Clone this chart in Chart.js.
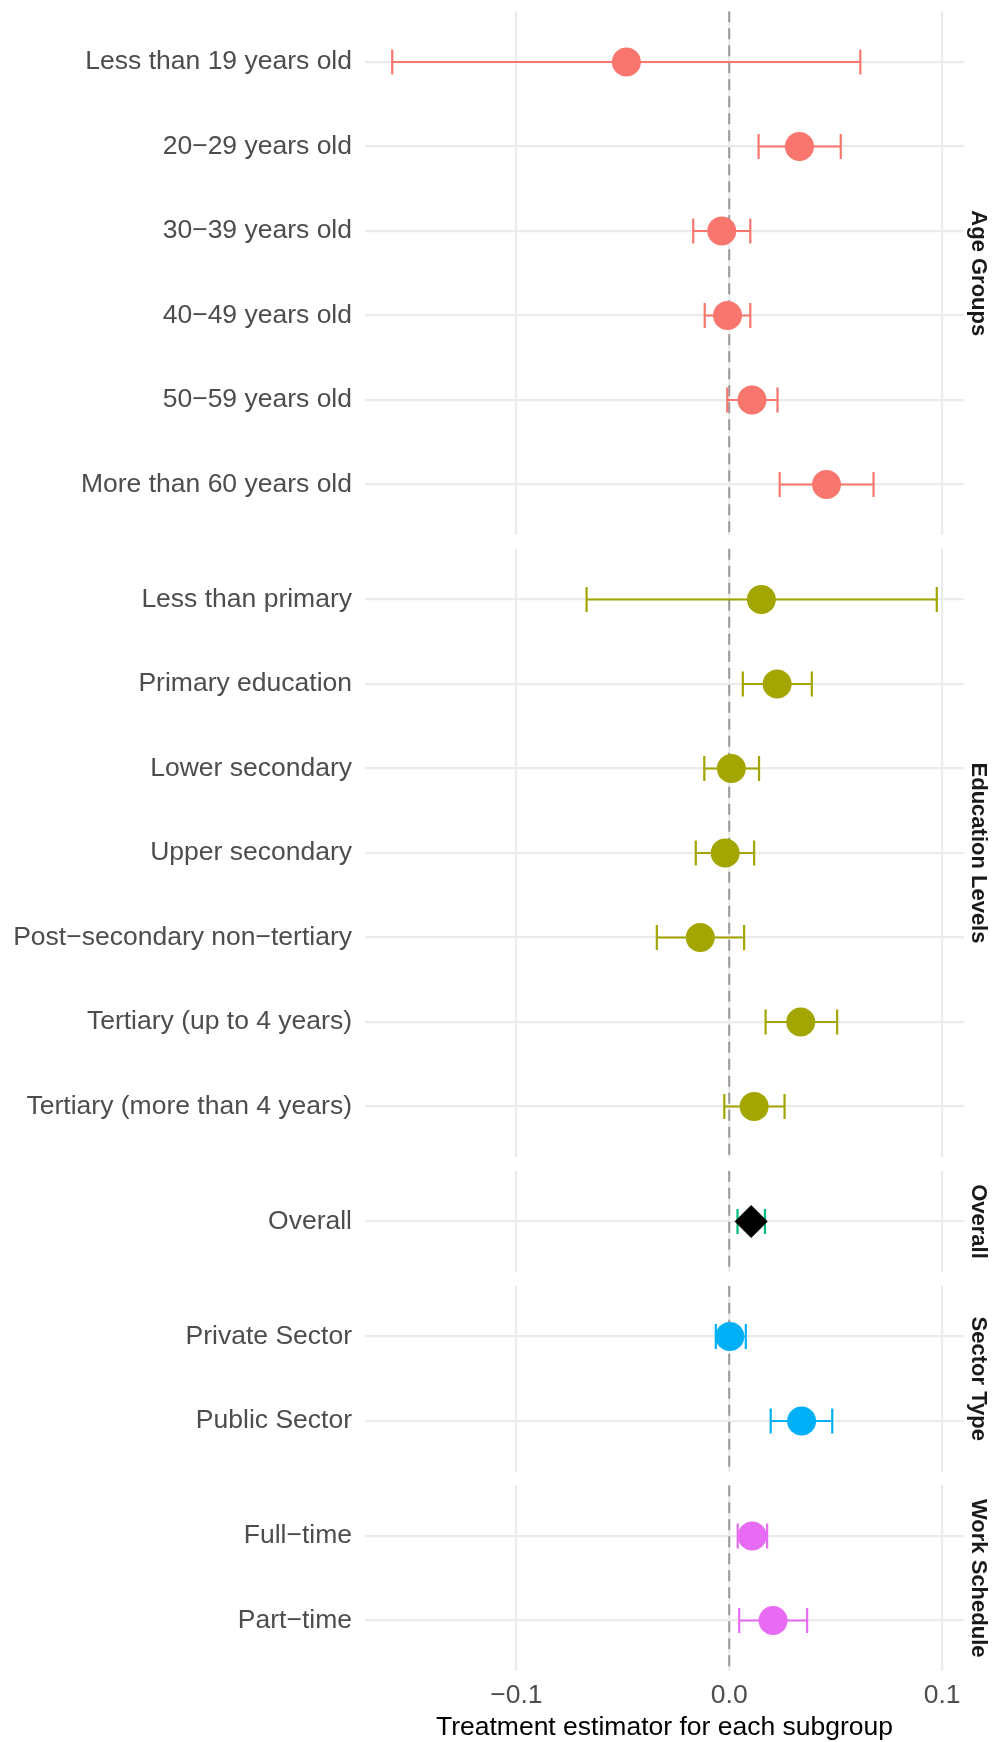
<!DOCTYPE html>
<html>
<head>
<meta charset="utf-8">
<title>Treatment estimator by subgroup</title>
<script src="https://cdn.jsdelivr.net/npm/chart.js@4"></script>
<style>
  body { margin: 0; background: #ffffff; }
  #contenedor { position: relative; width: 995px; height: 1742px; overflow: hidden; }
  #contenedor canvas { position: absolute; left: 0; }
</style>
</head>
<body>
<div id="contenedor"></div>
<script>
// ---------------- data ----------------
const ageLabels = ["Less than 19 years old", "20\u221229 years old", "30\u221239 years old",
  "40\u221249 years old", "50\u221259 years old", "More than 60 years old"];
const ageEst = [-0.0483, 0.0330, -0.0035, -0.0008, 0.0107, 0.0457];
const ageLow = [-0.1583, 0.0138, -0.0169, -0.0115, -0.0009, 0.0237];
const ageHigh = [0.0616, 0.0524, 0.0099, 0.0099, 0.0227, 0.0678];

const eduLabels = ["Less than primary", "Primary education", "Lower secondary", "Upper secondary",
  "Post\u2212secondary non\u2212tertiary", "Tertiary (up to 4 years)", "Tertiary (more than 4 years)"];
const eduEst = [0.0151, 0.0225, 0.0010, -0.0019, -0.0136, 0.0336, 0.0117];
const eduLow = [-0.0670, 0.0064, -0.0117, -0.0157, -0.0340, 0.0171, -0.0023];
const eduHigh = [0.0975, 0.0388, 0.0140, 0.0117, 0.0070, 0.0507, 0.0260];

const overallLabels = ["Overall"];
const overallEst = [0.0103];
const overallLow = [0.0039];
const overallHigh = [0.0168];

const sectorLabels = ["Private Sector", "Public Sector"];
const sectorEst = [0.0003, 0.0340];
const sectorLow = [-0.0063, 0.0195];
const sectorHigh = [0.0078, 0.0484];

const workLabels = ["Full\u2212time", "Part\u2212time"];
const workEst = [0.0108, 0.0206];
const workLow = [0.0040, 0.0047];
const workHigh = [0.0178, 0.0366];

const groupNames = ["Age Groups", "Education Levels", "Overall", "Sector Type", "Work Schedule"];
const groupColors = ["#F8766D", "#A3A500", "#00BF7D", "#00B0F6", "#E76BF3"];
const xTickValues = [-0.1, 0.0, 0.1];
const xTitle = "Treatment estimator for each subgroup";
/////////////////////////////////////////////////////////////////////////////////////

const paneles = [
  { nombre: groupNames[0], labels: ageLabels, est: ageEst, low: ageLow, high: ageHigh, color: groupColors[0] },
  { nombre: groupNames[1], labels: eduLabels, est: eduEst, low: eduLow, high: eduHigh, color: groupColors[1] },
  { nombre: groupNames[2], labels: overallLabels, est: overallEst, low: overallLow, high: overallHigh, color: groupColors[2], diamante: true },
  { nombre: groupNames[3], labels: sectorLabels, est: sectorEst, low: sectorLow, high: sectorHigh, color: groupColors[3] },
  { nombre: groupNames[4], labels: workLabels, est: workEst, low: workLow, high: workHigh, color: groupColors[4] },
];

// shared x range: data extent plus 5% on each side
const todosLow = paneles.flatMap((p) => p.low);
const todosHigh = paneles.flatMap((p) => p.high);
const xMinDatos = Math.min(...todosLow);
const xMaxDatos = Math.max(...todosHigh);
const xExpand = (xMaxDatos - xMinDatos) * 0.05;
const xMin = xMinDatos - xExpand;
const xMax = xMaxDatos + xExpand;

const ALTO_TOTAL = 1742;
const ANCHO_TOTAL = 995;
const pasoFila = 84.5;
const separacion = 13.6;
const primerTop = 11.3;
const margen = 40;
const anchoEtiquetas = 365;
const fuente = "'Liberation Sans', Arial, Helvetica, sans-serif";
const colorRejilla = "#EBEBEB";

Chart.defaults.font.family = fuente;

function formatoTick(v) {
  if (Math.abs(v) < 1e-9) return "0.0";
  return (v < 0 ? "\u2212" : "") + Math.abs(v).toFixed(1);
}

const contenedor = document.getElementById("contenedor");
let topPanel = primerTop;

paneles.forEach((panel, i) => {
  const n = panel.labels.length;
  const altoPanel = (n - 1 + 1.2) * pasoFila;
  const esUltimo = i === paneles.length - 1;
  const canvasTop = Math.floor(topPanel) - margen;
  const padTop = topPanel - canvasTop;
  const altoCanvas = esUltimo
    ? ALTO_TOTAL - canvasTop
    : Math.ceil(padTop + altoPanel + margen);
  const padBottom = esUltimo ? 0 : altoCanvas - padTop - altoPanel;
  const altoEje = ALTO_TOTAL - (topPanel + altoPanel);

  const canvas = document.createElement("canvas");
  canvas.width = ANCHO_TOTAL;
  canvas.height = altoCanvas;
  canvas.style.top = canvasTop + "px";
  contenedor.appendChild(canvas);

  // dashed reference line at zero
  const datasets = [
    {
      type: "line",
      data: [{ x: 0, y: -0.6 }, { x: 0, y: n - 0.4 }],
      borderColor: "#999999",
      borderWidth: 2,
      borderDash: [11, 6],
      pointRadius: 0,
      order: 2,
    },
  ];

  // error bars with caps
  panel.labels.forEach((etiqueta, j) => {
    datasets.push({
      type: "line",
      data: [{ x: panel.low[j], y: j }, { x: panel.high[j], y: j }],
      borderColor: panel.color,
      borderWidth: 2.2,
      pointStyle: "line",
      pointRotation: 90,
      pointRadius: 12.5,
      pointHoverRadius: 12.5,
      pointBorderColor: panel.color,
      pointBorderWidth: 2.2,
      order: 1,
    });
  });

  // point estimates
  datasets.push({
    type: "scatter",
    data: panel.est.map((v, j) => ({ x: v, y: j })),
    pointStyle: panel.diamante ? "rectRot" : "circle",
    pointRadius: panel.diamante ? 16 : 14.5,
    pointHoverRadius: panel.diamante ? 16 : 14.5,
    backgroundColor: panel.diamante ? "#000000" : panel.color,
    borderColor: panel.diamante ? "#000000" : panel.color,
    borderWidth: panel.diamante ? 1 : 0,
    order: 0,
  });

  new Chart(canvas, {
    type: "scatter",
    data: { datasets: datasets },
    options: {
      responsive: false,
      animation: false,
      events: [],
      layout: { padding: { top: padTop, bottom: padBottom, left: 0, right: 0 } },
      plugins: {
        legend: { display: false },
        tooltip: { enabled: false },
        // facet strip on the right side of each panel
        title: {
          display: true,
          fullSize: false,
          position: "right",
          text: panel.nombre,
          color: "#1A1A1A",
          font: { family: fuente, size: 22, weight: "bold", lineHeight: 1.2 },
          padding: { top: 3.8, bottom: 0.8 },
        },
      },
      scales: {
        x: {
          type: "linear",
          min: xMin,
          max: xMax,
          afterBuildTicks: (s) => {
            s.ticks = xTickValues.map((v) => ({ value: v }));
          },
          afterFit: (s) => {
            s.height = esUltimo ? altoEje : 0;
          },
          grid: { color: colorRejilla, lineWidth: 2.2, drawTicks: false },
          border: { display: false },
          ticks: {
            display: esUltimo,
            color: "#4D4D4D",
            font: { family: fuente, size: 26.5 },
            padding: 9,
            callback: (v) => formatoTick(v),
          },
          title: {
            display: esUltimo,
            text: xTitle,
            color: "#000000",
            font: { family: fuente, size: 26.5, lineHeight: 1 },
            padding: { top: 0, bottom: 1 },
          },
        },
        y: {
          type: "linear",
          reverse: true,
          min: -0.6,
          max: n - 0.4,
          afterBuildTicks: (s) => {
            s.ticks = panel.labels.map((_, j) => ({ value: j }));
          },
          afterFit: (s) => {
            s.width = anchoEtiquetas;
          },
          grid: { color: colorRejilla, lineWidth: 2.2, drawTicks: false },
          border: { display: false },
          ticks: {
            autoSkip: false,
            color: "#4D4D4D",
            font: { family: fuente, size: 26.5 },
            padding: 13,
            callback: (v) => panel.labels[Math.round(v)],
          },
        },
      },
    },
  });

  topPanel += altoPanel + separacion;
});
</script>
</body>
</html>
